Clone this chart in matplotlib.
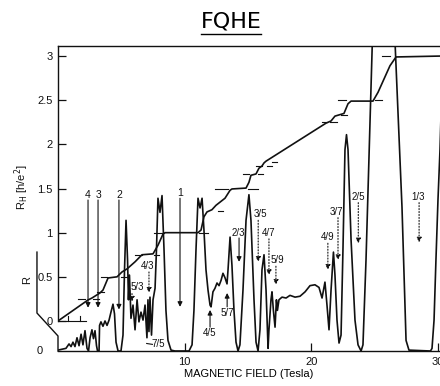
import matplotlib
matplotlib.use('Agg')
from matplotlib import pyplot as plt
from matplotlib.lines import Line2D

plt.rcParams['font.family'] = ['Liberation Sans', 'DejaVu Sans']

# Hall resistance, R_H in units of h/e^2
hall_b = [0, 2.37, 2.68, 3.31, 3.55, 3.95, 4.66, 5.05, 5.45, 6.08, 6.63, 7.5, 7.9,
          8.29, 8.45, 11.05, 11.29, 11.52, 11.76, 12.15, 12.47, 13.18, 13.58, 13.73,
          14.84, 15.07, 15.23, 15.63, 15.86, 16.1, 16.26, 16.42, 21.15, 21.55, 21.86,
          22.57, 22.89, 23.13, 24.86, 25.26, 26.2, 26.68, 30.15]
hall_r = [0, 0.238, 0.26, 0.317, 0.35, 0.487, 0.5, 0.555, 0.59, 0.67, 0.75, 0.76, 0.86,
          0.985, 1.0, 1.0, 1.03, 1.18, 1.235, 1.26, 1.31, 1.39, 1.48, 1.495,
          1.505, 1.57, 1.65, 1.665, 1.73, 1.755, 1.79, 1.81, 2.24, 2.265, 2.32,
          2.35, 2.46, 2.49, 2.49, 2.59, 2.89, 2.99, 3.0]

# longitudinal resistance R (arbitrary units above its own zero line)
rxx_b = [0.0, 0.32, 0.63, 0.87, 1.03, 1.18, 1.34, 1.5, 1.66, 1.82, 1.97, 2.13, 2.29,
         2.41, 2.53, 2.68, 2.8, 2.92, 3.04, 3.12, 3.24, 3.28, 3.39, 3.55, 3.71, 3.87,
         4.03, 4.18, 4.34, 4.46, 4.58, 4.74, 4.97, 5.13, 5.25, 5.37, 5.49, 5.56, 5.64,
         5.76, 5.92, 6.08, 6.24, 6.39, 6.55, 6.71, 6.87, 7.02, 7.1, 7.18, 7.26, 7.38,
         7.5, 7.66, 7.77, 7.89, 8.05, 8.21, 8.37, 8.52, 8.68, 8.92, 9.23, 10.34, 10.58,
         10.73, 10.89, 11.05, 11.21, 11.37, 11.52, 11.68, 11.84, 12.0, 12.08, 12.23,
         12.39, 12.55, 12.71, 12.87, 13.02, 13.18, 13.34, 13.42, 13.58, 13.73, 13.89,
         14.05, 14.21, 14.36, 14.6, 14.84, 15.07, 15.23, 15.47, 15.63, 15.79, 15.94,
         16.1, 16.26, 16.42, 16.58, 16.65, 16.81, 16.89, 17.0, 17.13, 17.24, 17.32,
         17.44, 17.68, 18.0, 18.31, 18.71, 19.1, 19.5, 19.89, 20.28, 20.6, 20.84,
         21.07, 21.23, 21.39, 21.55, 21.74, 21.86, 22.02, 22.18, 22.34, 22.49, 22.65,
         22.77, 22.89, 23.13, 23.44, 23.68, 23.92, 24.07, 24.31, 24.63, 24.86, 25.7,
         26.6, 27.15, 27.47, 27.7, 29.4, 29.52, 29.68, 29.83, 29.99, 30.15, 30.4]
rxx_r = [0.01, 0.02, 0.03, 0.08, 0.05, 0.1, 0.05, 0.15, 0.06, 0.19, 0.07, 0.23, 0.03,
         0.0, 0.15, 0.24, 0.14, 0.23, 0.06, 0.0, 0.0, 0.29, 0.33, 0.28, 0.34, 0.29,
         0.35, 0.44, 0.53, 0.42, 0.1, 0.0, 0.0, 0.18, 0.92, 1.48, 1.03, 0.58, 0.86,
         0.37, 0.52, 0.24, 0.58, 0.33, 0.44, 0.35, 0.52, 0.15, 0.58, 0.22, 0.61, 0.18,
         0.58, 0.71, 1.14, 1.73, 1.57, 1.76, 1.14, 0.46, 0.12, 0.01, 0.0, 0.0, 0.07,
         0.46, 1.14, 1.73, 1.62, 1.73, 1.37, 0.92, 0.69, 0.52, 0.5, 0.67,
         0.71, 0.77, 0.74, 0.8, 0.88, 0.83, 0.76, 0.92, 1.29, 0.97, 0.46,
         0.1, 0.0, 0.07, 0.69, 1.48, 1.77, 1.48, 0.58, 0.1, 0.0, 0.24,
         0.92, 1.09, 0.69, 0.03, 0.24, 0.58, 0.67, 0.46, 0.27, 0.58, 0.46,
         0.58, 0.61, 0.6, 0.63, 0.61, 0.62, 0.67, 0.74, 0.75, 0.72, 0.6,
         0.78, 0.52, 0.24, 0.69, 1.12, 0.86, 0.35, 0.09, 0.18, 1.14, 2.28,
         2.45, 2.28, 1.26, 0.35, 0.07, 0.0, 0.07, 1.03, 2.62, 3.75, 5.5,
         3.5, 1.63, 0.12, 0.01, 0.0, 0.03, 0.35, 1.03, 1.71, 2.28, 3.5]

# short marks at the expected plateau values: level, field from, field to
dash_level = [3.0, 2.5, 2.5, 2.333, 2.25, 2.25, 1.8, 1.75, 1.75, 1.667, 1.667,
              1.5, 1.5, 1.25, 1.0, 1.0, 0.75, 0.75, 0.5, 0.5, 0.333, 0.25, 0.25]
dash_from = [25.6, 22.1, 25.0, 22.3, 20.8, 21.5, 16.9, 15.6, 16.5, 14.6, 15.8,
             12.4, 15.0, 12.6, 7.6, 11.1, 6.1, 7.6, 3.4, 5.0, 3.1, 1.6, 2.8]
dash_to = [26.2, 22.7, 25.6, 22.8, 21.2, 22.0, 17.3, 16.1, 16.9, 15.1, 16.2,
           13.4, 15.8, 13.0, 8.4, 11.8, 6.6, 8.0, 3.9, 5.5, 3.6, 2.1, 3.2]

# filling factor arrows: label, field of arrow, label x, label y, arrow from, arrow to
nu_labels = ['4', '3', '2', '1', '5/3', '4/3', '4/5', '5/7', '2/3', '3/5', '4/7',
             '5/9', '4/9', '3/7', '2/5', '1/3']
nu_field = [2.37, 3.16, 4.81, 9.63, 5.84, 7.18, 12.0, 13.35, 14.29, 15.8, 16.65,
            17.2, 21.3, 22.1, 23.7, 28.5]
nu_text_x = [2.37, 3.16, 4.81, 9.63, 6.25, 7.1, 12.0, 13.35, 14.2, 16.0, 16.65,
             17.3, 21.3, 22.0, 23.7, 28.4]
nu_text_y = [1.43, 1.43, 1.43, 1.45, 0.38, 0.62, -0.135, 0.09, 1.0, 1.21, 1.0,
             0.69, 0.95, 1.23, 1.40, 1.40]
nu_from = [1.37, 1.37, 1.37, 1.39, 0.31, 0.555, -0.07, 0.16, 0.94, 1.14, 0.93,
           0.62, 0.88, 1.17, 1.34, 1.34]
nu_to = [0.15, 0.15, 0.13, 0.16, 0.22, 0.32, 0.125, 0.317, 0.67, 0.67, 0.52,
         0.41, 0.58, 0.69, 0.88, 0.89]
nu_dotted = [False, False, False, False, True, True, False, False, False, True, True,
             True, True, True, True, True]

R_BASE = -0.34
ink = '#111111'

fig = plt.figure(figsize=(4.4, 3.86), dpi=100)
ax = fig.add_axes([58 / 440, 35 / 386, 382 / 440, 305 / 386])
ax.set_xlim(0, 30.15)
ax.set_ylim(R_BASE, 3.114)

ax.plot(hall_b, hall_r, color=ink, lw=1.2)
ax.plot(rxx_b, [R_BASE + r for r in rxx_r], color=ink, lw=1.2)
for lev, b0, b1 in zip(dash_level, dash_from, dash_to):
    ax.plot([b0, b1], [lev, lev], color=ink, lw=0.8)

# zero line of the Hall trace near the origin
ax.plot([0, 2.2], [0, 0], color=ink, lw=0.8)
for b in [0.8, 1.75]:
    ax.plot([b, b], [0, 0.06], color=ink, lw=0.8)

for lab, b, tx, ty, y0, y1, dot in zip(nu_labels, nu_field, nu_text_x, nu_text_y,
                                      nu_from, nu_to, nu_dotted):
    ax.annotate('', xy=(b, y1), xytext=(b, y0),
                arrowprops=dict(arrowstyle='-|>', color=ink, lw=0.8,
                                linestyle=':' if dot else '-', mutation_scale=7,
                                shrinkA=0, shrinkB=0))
    size = 7.5 if '/' not in lab else 7
    ax.text(tx, ty, lab, fontsize=size, ha='center', va='center', color=ink)

ax.plot([7.0, 7.45], [-0.255, -0.265], color=ink, lw=0.8)
ax.text(7.95, -0.265, '7/5', fontsize=7, ha='center', va='center', color=ink)

# axes frame
ax.spines['right'].set_visible(False)
ax.spines['left'].set_bounds(0, 3.114)
for s in ['left', 'bottom', 'top']:
    ax.spines[s].set_linewidth(1.0)
    ax.spines[s].set_color(ink)

ax.set_yticks([0, 0.5, 1, 1.5, 2, 2.5, 3])
ax.set_yticklabels(['0', '0.5', '1', '1.5', '2', '2.5', '3'])
ax.set_xticks([10, 20, 30])
ax.tick_params(direction='in', length=6, width=0.9, labelsize=8, pad=4, colors=ink)
ax.set_xlabel('MAGNETIC FIELD (Tesla)', fontsize=8, labelpad=2)

# separate axis for R, offset to the left
ax.plot([-1.66, -1.66, 0, 0], [0.78, 0.09, -0.17, R_BASE], color=ink, lw=1.0,
        clip_on=False)
ax.text(-1.2, R_BASE, '0', fontsize=8, ha='right', va='center', color=ink)
ax.text(-2.4, 0.46, 'R', fontsize=8, ha='center', va='center', rotation=90, color=ink)
ax.text(-2.85, 1.52, r'R$_\mathrm{H}$ [h/e$^2$]', fontsize=8, ha='center',
        va='center', rotation=90, color=ink)

title = fig.text(231 / 440, 1 - 21 / 386, 'FQHE', fontsize=16, ha='center',
                 va='center', family='DejaVu Sans')
fig.canvas.draw()
bb = title.get_window_extent()
fig.add_artist(Line2D([bb.x0, bb.x1], [bb.y0 - 3, bb.y0 - 3], transform=None,
                      color='black', lw=1.0))

fig.savefig('out.png', dpi=100)
